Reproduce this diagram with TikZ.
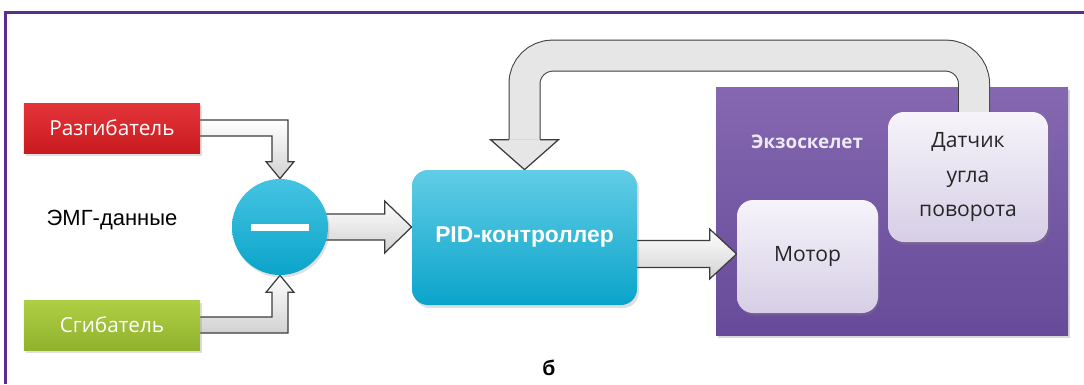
\documentclass[tikz,border=0pt]{standalone}
\usepackage{fontspec}
\setmainfont{Liberation Sans}
\newfontfamily\segoe{Open Sans}
\usepackage{xcolor}
\usepackage{tikz}
\usetikzlibrary{calc,shadows}

\definecolor{framepurple}{HTML}{5B2D8E}
\definecolor{redtop}{HTML}{E2353A}
\definecolor{redbot}{HTML}{CA1A20}
\definecolor{greentop}{HTML}{AECF45}
\definecolor{greenbot}{HTML}{90B22D}
\definecolor{cyantop}{HTML}{45C4E2}
\definecolor{cyanbot}{HTML}{0BA4CA}
\definecolor{exotop}{HTML}{8568B0}
\definecolor{exobot}{HTML}{674A99}
\definecolor{unittop}{HTML}{F6F4FA}
\definecolor{unitbot}{HTML}{D6CEE6}
\definecolor{arrowline}{HTML}{3C3C3C}
\definecolor{arrowgray}{HTML}{D2D2D2}
\definecolor{arrowfill}{HTML}{E6E6E6}
\definecolor{exotext}{HTML}{EEEAF5}

\pgfdeclarelayer{bg}
\pgfdeclarelayer{arrows}
\pgfsetlayers{bg,arrows,main}

\begin{document}
\begin{tikzpicture}[
    x=0.2mm, y=-0.2mm,
    muscle/.style   = {minimum width=35.2mm, minimum height=10mm, inner sep=0pt,
                       text=white, font=\segoe\fontsize{11.8}{14}\selectfont,
                       drop shadow={opacity=0.25, shadow xshift=0.4mm,
                                    shadow yshift=-0.6mm}},
    unit/.style     = {rounded corners=3.2mm, align=center, inner sep=0pt,
                       top color=unittop, bottom color=unitbot, text=black!85,
                       font=\segoe\fontsize{12}{19.8}\selectfont,
                       drop shadow={opacity=0.3, shadow xshift=0.3mm,
                                    shadow yshift=-0.5mm}},
    blockarrow/.style = {draw=arrowline, line width=0.25mm, line join=miter,
                         top color=white, bottom color=arrowgray},
    lbl/.style      = {font=\fontsize{12.5}{15}\selectfont},
]

%% ── Frame ─────────────────────────────────────────────────────────────────
\useasboundingbox (0,0) rectangle (1084,384);
\draw[framepurple, line width=0.6mm] (1084,12) -- (5,12) -- (5,384);

%% ── EMG inputs ────────────────────────────────────────────────────────────
\node[muscle, top color=redtop, bottom color=redbot] (razg) at (112,128)
  {Разгибатель};
\node[muscle, top color=greentop, bottom color=greenbot] (sgib) at (112,325)
  {Сгибатель};
\node[lbl] (emg) at (112,220) {ЭМГ-данные};

%% ── Difference ────────────────────────────────────────────────────────────
\node[circle, minimum size=19.2mm, inner sep=0pt, top color=cyantop,
      bottom color=cyanbot,
      drop shadow={opacity=0.25, shadow xshift=0.3mm, shadow yshift=-0.5mm}]
  (minus) at (280,227) {\color{white}\rule{11.6mm}{1.4mm}};

%% ── Controller ────────────────────────────────────────────────────────────
\node[rounded corners=3.2mm, minimum width=45mm, minimum height=27mm,
      inner sep=0pt, top color=cyantop!85!white, bottom color=cyanbot,
      text=white, font=\bfseries\fontsize{13}{15}\selectfont,
      drop shadow={opacity=0.25, shadow xshift=0.4mm, shadow yshift=-0.6mm}]
  (pid) at (524.5,237.5) {PID-контроллер};

%% ── Exoskeleton ───────────────────────────────────────────────────────────
\begin{pgfonlayer}{bg}
\node[minimum width=70.4mm, minimum height=49.6mm, inner sep=0pt,
      top color=exotop, bottom color=exobot,
      drop shadow={opacity=0.3, shadow xshift=0.4mm, shadow yshift=-0.6mm}]
  (exo) at (892,211) {};
\end{pgfonlayer}
\node[text=exotext, font=\segoe\bfseries\fontsize{10.7}{13}\selectfont]
  (exolbl) at (807,142) {Экзоскелет};
\node[unit, minimum width=28.2mm, minimum height=22.6mm] (motor)
  at (807.5,256.5) {Мотор};
\node[unit, minimum width=32mm, minimum height=26mm] (sensor)
  at (968,177) {Датчик\\угла\\поворота};

\node[font=\bfseries\fontsize{12}{14}\selectfont] (cap) at (549,368) {б};

%% ── Block arrows ──────────────────────────────────────────────────────────
\begin{pgfonlayer}{arrows}
\draw[blockarrow] ($(razg.east)+(-2,-8)$) -| ($(minus.north)+(8,-17)$)
  -- ++(6,0) -- (minus.north) -- ++(-14,-17) -- ++(6,0)
  |- ($(razg.east)+(-2,8)$) -- cycle;
\draw[blockarrow] ($(sgib.east)+(-2,8)$) -| ($(minus.south)+(8,17)$)
  -- ++(6,0) -- (minus.south) -- ++(-14,17) -- ++(6,0)
  |- ($(sgib.east)+(-2,-8)$) -- cycle;

\coordinate (ctip) at (pid.west |- minus.east);
\draw[blockarrow] ($(minus.east)+(-8,-13)$) -- ($(ctip)+(-27,-13)$)
  -- ++(0,-13) -- (ctip) -- ($(ctip)+(-27,26)$) -- ++(0,-13)
  -- ($(minus.east)+(-8,13)$) -- cycle;

\coordinate (dtip) at ($(motor.west)+(0,-2.5)$);
\draw[blockarrow] ($(pid.east |- dtip)+(-4,-13.5)$) -- ($(dtip)+(-27,-13.5)$)
  -- ++(0,-11.5) -- (dtip) -- ($(dtip)+(-27,25)$) -- ++(0,-11.5)
  -- ($(pid.east |- dtip)+(-4,13.5)$) -- cycle;

% feedback from the angle sensor
\draw[draw=arrowline, line width=0.2mm, double=arrowfill, double distance=6mm,
      rounded corners=5.6mm]
  ($(sensor.north)+(6,4)$) -- ++(0,-60) -| ($(pid.north)+(0,-30)$);
\fill[arrowfill] ($(pid.north)+(-34,-30.3)$) -- (pid.north)
  -- ($(pid.north)+(34,-30.3)$) -- cycle;
\draw[arrowline, line width=0.25mm, line join=miter]
  ($(pid.north)+(-15.5,-30)$) -- ++(-18.5,0) -- (pid.north)
  -- ($(pid.north)+(34,-30)$) -- ++(-18.5,0);
\end{pgfonlayer}

\end{tikzpicture}
\end{document}
